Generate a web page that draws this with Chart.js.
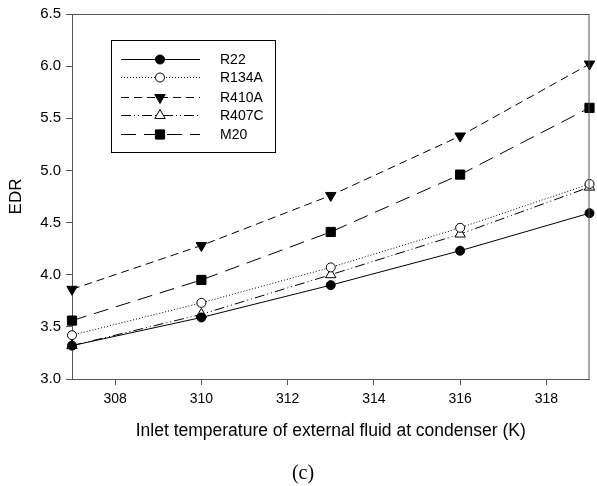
<!DOCTYPE html>
<html>
<head>
<meta charset="utf-8">
<script src="https://cdn.jsdelivr.net/npm/chart.js@4"></script>
<style>
  html, body { margin: 0; padding: 0; background: #fff; }
  #wrap { width: 597px; height: 486px; }
</style>
</head>
<body>
<div id="wrap"><canvas id="edrChart"></canvas></div>
<script>
// Werte
const temperatur = [307, 310, 313, 316, 319];
const r22 = [3.32, 3.59, 3.90, 4.23, 4.59];
const r134a = [3.42, 3.73, 4.07, 4.45, 4.87];
const r410a = [3.86, 4.28, 4.76, 5.33, 6.02];
const r407c = [3.32, 3.62, 4.00, 4.39, 4.84];
const m20 = [3.56, 3.95, 4.41, 4.96, 5.60];

const serienNamen = ["R22", "R134A", "R410A", "R407C", "M20"];
const xTicks = [308, 310, 312, 314, 316, 318];
const yTicks = [3.0, 3.5, 4.0, 4.5, 5.0, 5.5, 6.0, 6.5];

function punkte(werte) {
  return temperatur.map(function (t, i) {
    return { x: t, y: werte[i] };
  });
}

const stile = [
  { dash: [], point: "circle", radius: 4.5, fill: "#000", rot: 0 },
  { dash: [1, 2], point: "circle", radius: 4.5, fill: "#fff", rot: 0 },
  { dash: [8, 5], point: "triangle", radius: 6, fill: "#000", rot: 180 },
  { dash: [10, 3, 1, 3, 1, 3], point: "triangle", radius: 6, fill: "#fff", rot: 0 },
  { dash: [15, 8], point: "rect", radius: 6.5, fill: "#000", rot: 0 },
];

const alleWerte = [r22, r134a, r410a, r407c, m20];

const datasets = alleWerte.map(function (werte, i) {
  return {
    label: serienNamen[i],
    data: punkte(werte),
    borderColor: "#000",
    borderWidth: 1,
    borderDash: stile[i].dash,
    pointStyle: stile[i].point,
    pointRadius: stile[i].radius,
    pointRotation: stile[i].rot,
    pointBackgroundColor: stile[i].fill,
    pointBorderColor: "#000",
    pointBorderWidth: 1,
    tension: 0,
    clip: false,
  };
});

// Rahmen, Legende und "(c)" zeichnen
const extras = {
  id: "extras",
  afterDraw(chart) {
    const ctx = chart.ctx;
    const a = chart.chartArea;
    ctx.save();
    ctx.strokeStyle = "#555";
    ctx.lineWidth = 1;
    ctx.beginPath();
    ctx.moveTo(a.left, a.top + 0.5);
    ctx.lineTo(a.right, a.top + 0.5);
    ctx.moveTo(a.right - 0.5, a.top);
    ctx.lineTo(a.right - 0.5, a.bottom);
    ctx.stroke();

    // Legende
    ctx.strokeStyle = "#000";
    ctx.strokeRect(111.5, 40.5, 164, 112);
    const zeilen = [59, 77, 97, 115, 134];
    ctx.font = "14px 'Liberation Sans', Arial, sans-serif";
    ctx.textBaseline = "middle";
    ctx.fillStyle = "#000";
    zeilen.forEach(function (y, i) {
      ctx.setLineDash(stile[i].dash);
      ctx.beginPath();
      ctx.moveTo(121, y + 0.5);
      ctx.lineTo(200, y + 0.5);
      ctx.stroke();
      ctx.setLineDash([]);
      ctx.fillStyle = stile[i].fill;
      Chart.helpers.drawPoint(ctx, {
        pointStyle: stile[i].point,
        radius: stile[i].radius,
        rotation: stile[i].rot,
        borderWidth: 1,
      }, 160, y + 0.5);
      ctx.fillStyle = "#000";
      ctx.fillText(serienNamen[i], 220, y + 1);
    });

    ctx.font = "20px 'Liberation Serif', 'Times New Roman', serif";
    ctx.textAlign = "center";
    ctx.fillText("(c)", 303, 474);
    ctx.restore();
  },
};

new Chart(document.querySelector("#edrChart"), {
  type: "line",
  data: { datasets: datasets },
  plugins: [extras],
  options: {
    responsive: true,
    maintainAspectRatio: false,
    animation: false,
    layout: { padding: { top: 12, right: 1, left: 0, bottom: 0 } },
    plugins: { legend: { display: false }, tooltip: { enabled: false } },
    scales: {
      x: {
        type: "linear",
        min: 307,
        max: 319,
        afterBuildTicks: function (scale) {
          scale.ticks = xTicks.map(function (v) { return { value: v }; });
        },
        afterFit: function (scale) { scale.height = 107; },
        grid: { drawOnChartArea: false, drawTicks: true, tickLength: 6, color: "#555" },
        border: { color: "#555", width: 1 },
        ticks: {
          color: "#000",
          padding: 6,
          maxRotation: 0,
          font: { family: "'Liberation Sans', Arial, sans-serif", size: 14 },
        },
        title: {
          display: true,
          text: "Inlet temperature of external fluid at condenser (K)",
          color: "#000",
          font: { family: "'Liberation Sans', Arial, sans-serif", size: 17.5 },
          padding: { top: 4, bottom: 44 },
        },
      },
      y: {
        min: 3.0,
        max: 6.5,
        afterBuildTicks: function (scale) {
          scale.ticks = yTicks.map(function (v) { return { value: v }; });
        },
        afterFit: function (scale) { scale.width = 72; },
        grid: { drawOnChartArea: false, drawTicks: true, tickLength: 6, color: "#555" },
        border: { color: "#555", width: 1 },
        ticks: {
          color: "#000",
          padding: 5,
          font: { family: "'Liberation Sans', Arial, sans-serif", size: 15 },
          callback: function (v) { return Number(v).toFixed(1); },
        },
        title: {
          display: true,
          text: "EDR",
          color: "#000",
          font: { family: "'Liberation Sans', Arial, sans-serif", size: 17 },
          padding: { top: 6, bottom: 0 },
        },
      },
    },
  },
});
</script>
</body>
</html>
